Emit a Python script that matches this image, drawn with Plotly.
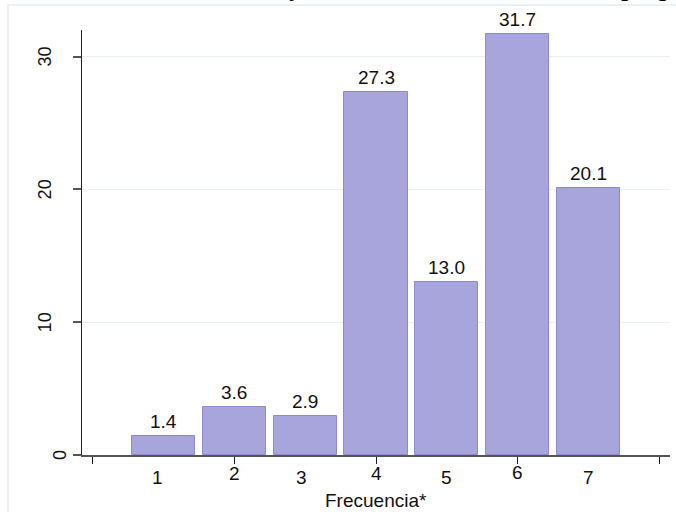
import plotly.graph_objects as go

categories = [1, 2, 3, 4, 5, 6, 7]
values = [1.4, 3.6, 2.9, 27.3, 13.0, 31.7, 20.1]
y_ticks = [0, 10, 20, 30]
x_ticks = [0, 2, 4, 6, 8]
# pixel offsets of each category label, as staggered in the original
label_dy = [-22, -18, -22, -18, -22, -17, -22]
label_dx = [-6, 0, -4, 0, 0, 0, 0]
x_title = "Frecuencia*"
# title is almost entirely cut off at the top edge in the original
title_text = "Nivel de conocimiento y asistencia a las actividades del programa"

W, H = 676, 512
L, R, T, B = 82, 6, 30, 57
pw, ph = W - L - R, H - T - B


def px_to_paper_x(px):
    return (px - L) / pw


def px_to_paper_y(py):
    return (H - B - py) / ph


fig = go.Figure()
fig.add_trace(go.Bar(
    x=categories, y=values, width=0.89,
    marker=dict(color="#a8a4dc", line=dict(color="#8f89d2", width=1)),
    hoverinfo="skip",
))

font_family = "Liberation Sans, Arial, sans-serif"
ann = []
for c, v in zip(categories, values):
    ann.append(dict(x=c, y=v, xref="x", yref="y", text=f"{v:.1f}", showarrow=False,
                    yanchor="bottom", yshift=2,
                    font=dict(size=19, color="#111", family=font_family)))
for c, dy, dx in zip(categories, label_dy, label_dx):
    ann.append(dict(x=c, y=0, xref="x", yref="y", text=str(c), showarrow=False,
                    yanchor="middle", yshift=dy, xshift=dx,
                    font=dict(size=19, color="#111", family=font_family)))
# y tick labels (rotated), positioned as in the original
for t in y_ticks:
    cx = 60 if t == 0 else 45
    ann.append(dict(x=px_to_paper_x(cx), y=t, xref="paper", yref="y", text=str(t),
                    showarrow=False, textangle=-90, xanchor="center", yanchor="middle",
                    font=dict(size=18, color="#111", family=font_family)))
ann.append(dict(x=0.5, y=px_to_paper_y(501), xref="paper", yref="paper", text=x_title,
                showarrow=False, yanchor="middle",
                font=dict(size=19, color="#111", family=font_family)))
ann.append(dict(x=px_to_paper_x(56), y=px_to_paper_y(-12), xref="paper", yref="paper",
                text=f"<b>{title_text}</b>", showarrow=False, xanchor="left",
                yanchor="middle",
                font=dict(size=24, color="#000", family="Liberation Serif, Times New Roman, serif")))

fig.update_layout(
    width=W, height=H,
    margin=dict(l=L, r=R, t=T, b=B, pad=0),
    paper_bgcolor="white", plot_bgcolor="white",
    showlegend=False,
    bargap=0,
    font=dict(family=font_family, size=18, color="#111"),
    xaxis=dict(range=[-0.15, 8.15], tickmode="array", tickvals=x_ticks,
               ticktext=["" for _ in x_ticks], ticks="outside", ticklen=7,
               tickcolor="#222", tickwidth=1, showline=True, linecolor="#555",
               linewidth=1.5, showgrid=False, zeroline=False, fixedrange=True),
    yaxis=dict(range=[0, 32], tickmode="array", tickvals=y_ticks,
               ticktext=["" for _ in y_ticks],
               ticks="outside", ticklen=8, tickcolor="#555", tickwidth=1.5,
               showline=True, linecolor="#222", linewidth=1.2,
               showgrid=True, gridcolor="#e8f0f2", gridwidth=1,
               zeroline=False, fixedrange=True),
    annotations=ann,
    shapes=[dict(type="rect", xref="paper", yref="paper",
                 x0=px_to_paper_x(8), x1=px_to_paper_x(W + 20),
                 y0=px_to_paper_y(H + 20), y1=px_to_paper_y(5),
                 line=dict(color="#e6eef0", width=1.5), layer="below")],
)

fig.write_html("out.html", config={"displayModeBar": False},
               post_script="document.body.style.margin='0';document.body.style.overflow='hidden';")
